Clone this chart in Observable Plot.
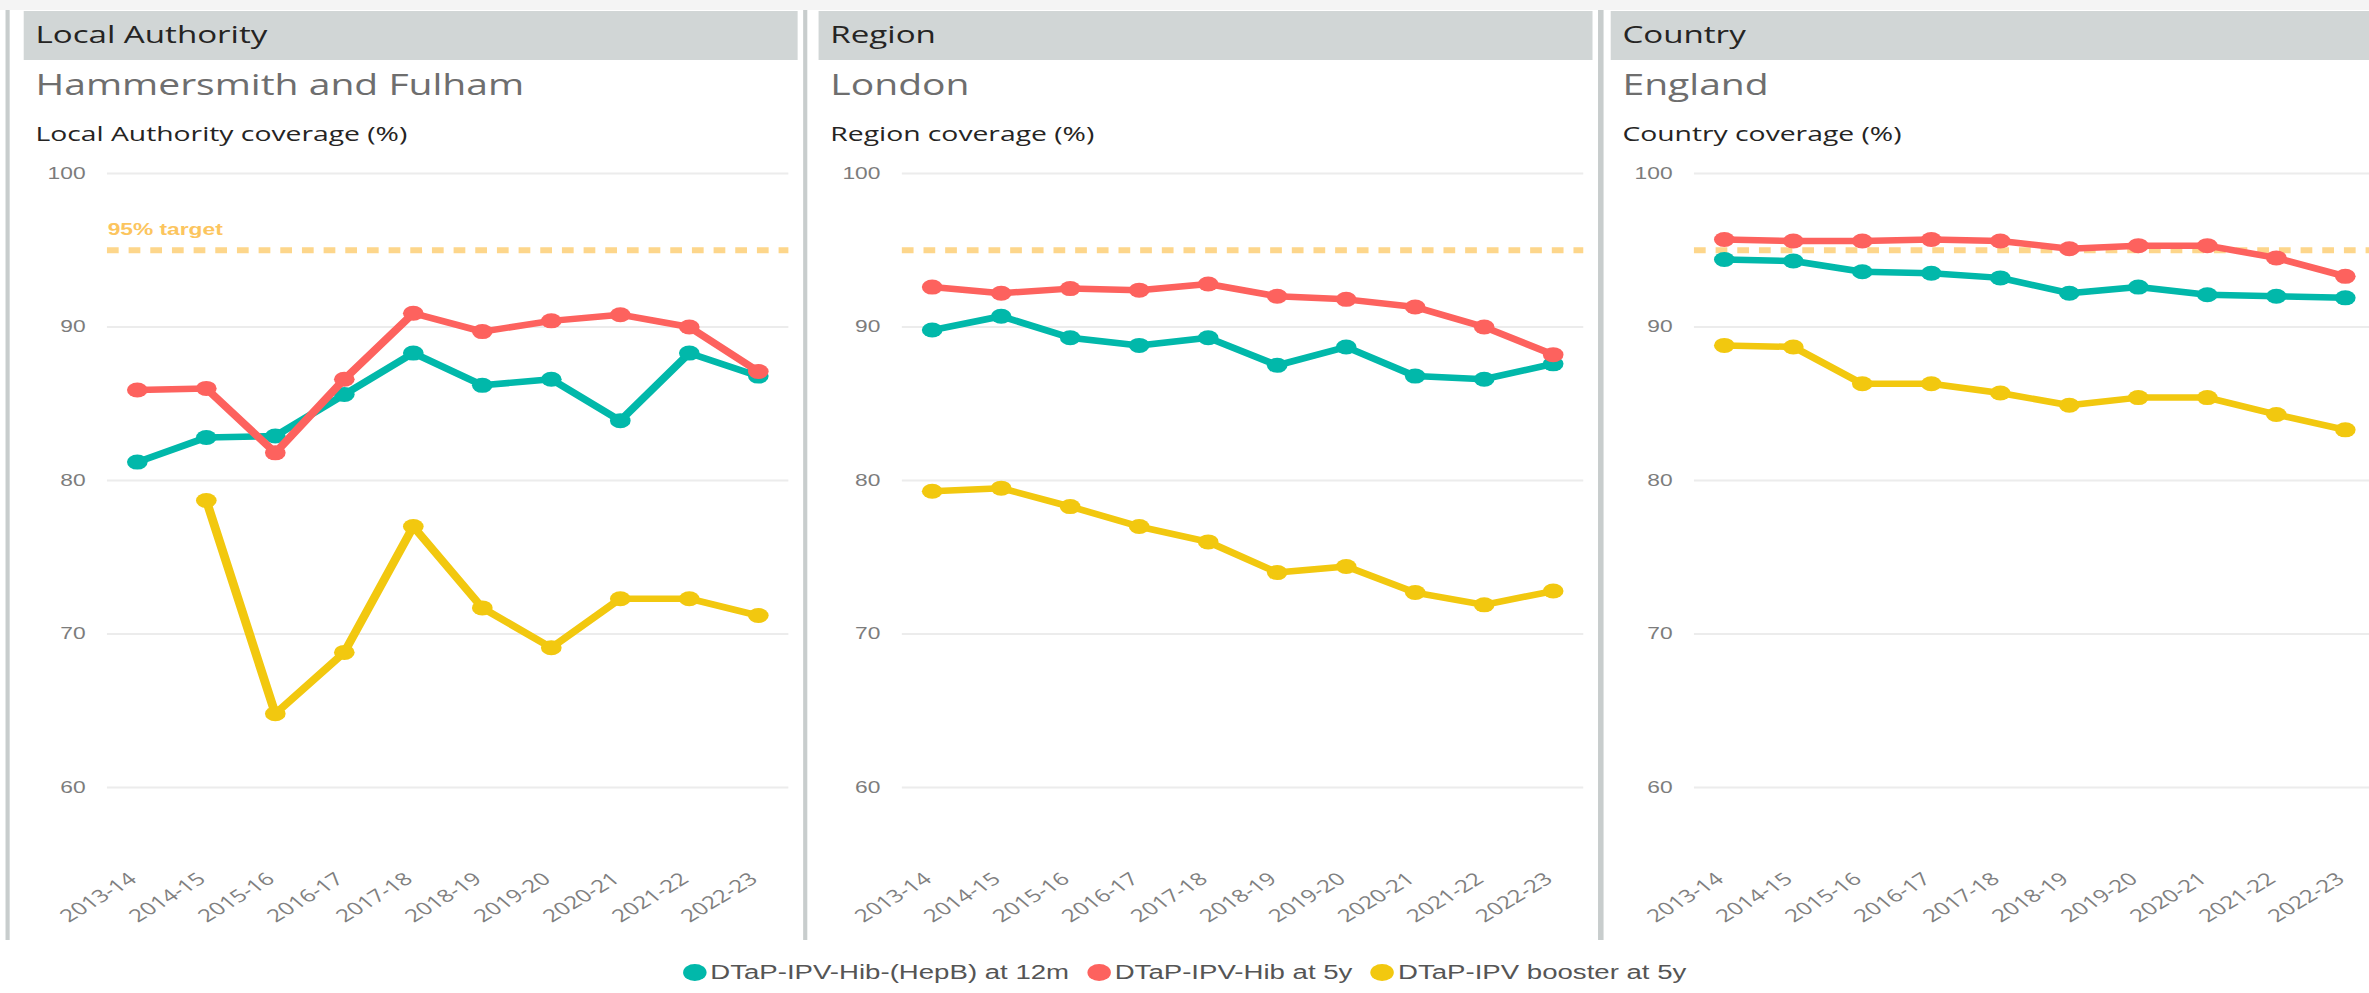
<!DOCTYPE html>
<html>
<head>
<meta charset="utf-8">
<script src="https://cdn.jsdelivr.net/npm/d3@7"></script>
<script src="https://cdn.jsdelivr.net/npm/@observablehq/plot@0.6"></script>
<style>
  html, body { margin: 0; padding: 0; background: #fff; overflow: hidden; width: 2369px; height: 993px; }
  #stage { position: absolute; left: 0; top: 0; height: 993px; transform-origin: 0 0; overflow: hidden; }
  .topstrip { position: absolute; left: 0; top: 0; width: 100%; height: 10px; background: #f4f4f4; }
  .bar { position: absolute; top: 10px; height: 930px; width: 3.6px; background: #c8cdcd; }
  .panel { position: absolute; top: 0; height: 940px; }
  .panel svg.head { position: absolute; left: 0; top: 0; }
  .panel .chart { position: absolute; left: 0; top: 150px; }
  #legend { position: absolute; top: 960px; left: 0; right: 0; display: flex; justify-content: center; align-items: center;
            font-family: "Liberation Sans", Arial, sans-serif; font-size: 20px; line-height: 24px; color: #555; white-space: nowrap; }
  #legend .item { display: flex; align-items: center; margin: 0 6.5px; }
  #legend .dot { width: 17px; height: 17px; border-radius: 50%; margin-right: 3px; }
</style>
</head>
<body>
<div id="stage"></div>
<script>
// ---------------- data ----------------
const years = ["2013-14","2014-15","2015-16","2016-17","2017-18","2018-19","2019-20","2020-21","2021-22","2022-23"];
const seriesNames = ["DTaP-IPV-Hib-(HepB) at 12m", "DTaP-IPV-Hib at 5y", "DTaP-IPV booster at 5y"];
const seriesColors = ["#01B8AA", "#FD625E", "#F2C80F"];

const levelTitles = ["Local Authority", "Region", "Country"];
const areaNames = ["Hammersmith and Fulham", "London", "England"];
const axisTitles = ["Local Authority coverage (%)", "Region coverage (%)", "Country coverage (%)"];

const laDtap12m    = [81.2, 82.8, 82.9, 85.6, 88.3, 86.2, 86.6, 83.9, 88.3, 86.8];
const laHib5y      = [85.9, 86.0, 81.8, 86.6, 90.9, 89.7, 90.4, 90.8, 90.0, 87.1];
const laBooster5y  = [null, 78.7, 64.8, 68.8, 77.0, 71.7, 69.1, 72.3, 72.3, 71.2];

const regionDtap12m   = [89.8, 90.7, 89.3, 88.8, 89.3, 87.5, 88.7, 86.8, 86.6, 87.6];
const regionHib5y     = [92.6, 92.2, 92.5, 92.4, 92.8, 92.0, 91.8, 91.3, 90.0, 88.2];
const regionBooster5y = [79.3, 79.5, 78.3, 77.0, 76.0, 74.0, 74.4, 72.7, 71.9, 72.8];

const countryDtap12m   = [94.4, 94.3, 93.6, 93.5, 93.2, 92.2, 92.6, 92.1, 92.0, 91.9];
const countryHib5y     = [95.7, 95.6, 95.6, 95.7, 95.6, 95.1, 95.3, 95.3, 94.5, 93.3];
const countryBooster5y = [88.8, 88.7, 86.3, 86.3, 85.7, 84.9, 85.4, 85.4, 84.3, 83.3];

const yTicks = [60, 70, 80, 90, 100];
const targetValue = 95;
const targetLabel = "95% target";

const panelValues = [
  [laDtap12m, laHib5y, laBooster5y],
  [regionDtap12m, regionHib5y, regionBooster5y],
  [countryDtap12m, countryHib5y, countryBooster5y]
];

// ---------------- layout ----------------
const S = 1.38;                     // horizontal stretch of the reference
const W = 2369 / S;
const stage = document.getElementById("stage");
stage.style.width = W + "px";
stage.style.transform = `scaleX(${S})`;

const PW = 561.6;
const panelLefts = [16.7, 592.8, 1167.4];
const barLefts = [3.6, 581.9, 1158.3];
const titleFont = "'Segoe UI', 'Open Sans', sans-serif";

const strip = document.createElement("div"); strip.className = "topstrip"; stage.appendChild(strip);
barLefts.forEach(l => { const b = document.createElement("div"); b.className = "bar"; b.style.left = l + "px"; stage.appendChild(b); });

panelValues.forEach((vals, p) => {
  const panel = document.createElement("div");
  panel.className = "panel";
  panel.style.left = panelLefts[p] + "px";
  panel.style.width = PW + "px";
  stage.appendChild(panel);

  const head = d3.create("svg").attr("class", "head").attr("width", PW).attr("height", 150);
  head.append("rect").attr("x", 0).attr("y", 11).attr("width", PW).attr("height", 49).attr("fill", "#d1d6d6");
  head.append("text").attr("x", 8.7).attr("y", 43).attr("font-family", titleFont).attr("font-size", 24).attr("fill", "#252423").text(levelTitles[p]);
  head.append("text").attr("x", 8.7).attr("y", 95).attr("font-family", titleFont).attr("font-size", 28.3).attr("fill", "#6e6e6e").text(areaNames[p]);
  head.append("text").attr("x", 8.7).attr("y", 141).attr("font-family", titleFont).attr("font-size", 20.5).attr("fill", "#252423").text(axisTitles[p]);
  panel.appendChild(head.node());

  const marks = [
    Plot.ruleY(yTicks, {stroke: "#ececec", strokeWidth: 2}),
    Plot.ruleY([targetValue], {stroke: "#fdd68b", strokeWidth: 6, strokeDasharray: "8.5,7.2"}),
    Plot.axisY({ticks: yTicks, tickSize: 0, tickPadding: 16, fontSize: 16.5, label: null}),
    Plot.text(years, {x: d => d, text: d => d, frameAnchor: "bottom", dx: -3, dy: 89, rotate: -40,
                      textAnchor: "end", lineAnchor: "middle", fontSize: 17.5, fontFamily: "'Open Sans', sans-serif", fill: "#7f7f7f"})
  ];
  if (p === 0) {
    marks.push(Plot.text([targetLabel], {y: [targetValue], text: d => d, frameAnchor: "left", textAnchor: "start",
      dy: -21, fontSize: 16.5, fontWeight: "bold", fill: "#fcc55e", fontFamily: "'Liberation Sans', Arial, sans-serif"}));
  }
  vals.forEach((arr, s) => {
    const data = years.map((yr, i) => ({year: yr, value: arr[i] == null ? NaN : arr[i]}));
    marks.push(Plot.line(data, {x: "year", y: "value", stroke: seriesColors[s], strokeWidth: 6.5}));
    marks.push(Plot.dot(data, {x: "year", y: "value", fill: seriesColors[s], r: 7.5}));
  });

  const chart = Plot.plot({
    width: PW, height: 788,
    marginTop: 23, marginBottom: 151, marginLeft: 60.5, marginRight: 7.3,
    x: {type: "point", domain: years, range: [81, 533], padding: 0, axis: null},
    y: {domain: [60, 100]},
    style: {background: "transparent", maxWidth: "none", overflow: "visible", color: "#7c7c7c",
            fontFamily: "'Liberation Sans', Arial, sans-serif", fontSize: "16px"},
    marks
  });
  chart.classList.add("chart");
  panel.appendChild(chart);
});

// ---------------- legend ----------------
const legend = document.createElement("div");
legend.id = "legend";
seriesNames.forEach((name, i) => {
  const item = document.createElement("span"); item.className = "item";
  const dot = document.createElement("span"); dot.className = "dot"; dot.style.background = seriesColors[i];
  const label = document.createElement("span"); label.textContent = name;
  item.appendChild(dot); item.appendChild(label);
  legend.appendChild(item);
});
stage.appendChild(legend);
</script>
</body>
</html>
